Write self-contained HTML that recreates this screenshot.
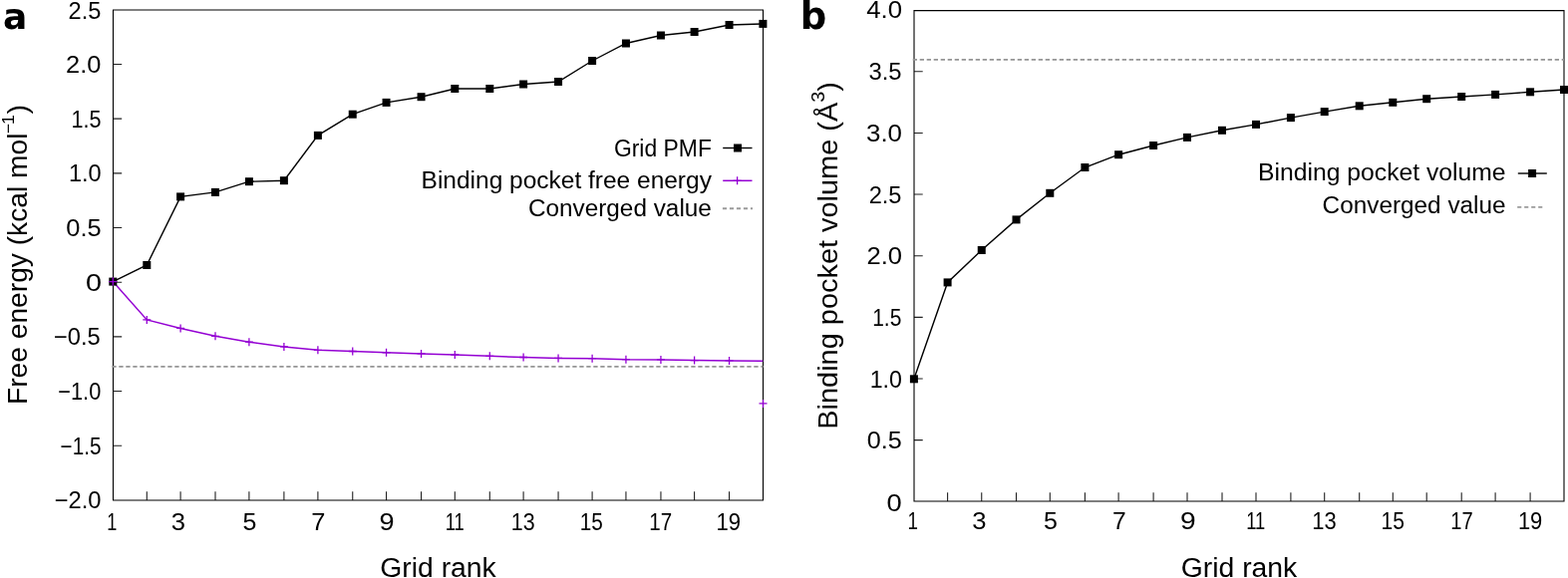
<!DOCTYPE html>
<html><head><meta charset="utf-8"><title>Grid rank convergence</title>
<style>
html,body{margin:0;padding:0;background:#fff;}
svg{display:block;}
text{font-family:"Liberation Sans", Arial, sans-serif;fill:#000;}
.t{font-size:23.8px;}
.ti{font-size:27.0px;}
.lg{font-size:23.5px;}
.lab{font-family:"DejaVu Sans","Liberation Sans",sans-serif;font-size:37px;font-weight:bold;}
</style></head>
<body>
<svg width="1573" height="580" viewBox="0 0 1573 580">
<rect width="1573" height="580" fill="#fff"/>
<path d="M113.5 64.50H122.2M113.5 119.17H122.2M113.5 173.84H122.2M113.5 228.51H122.2M113.5 283.18H122.2M113.5 337.85H122.2M113.5 392.52H122.2M113.5 447.19H122.2M147.30 493.3V502.0M181.10 493.3V502.0M216.00 493.3V502.0M249.90 493.3V502.0M284.90 493.3V502.0M318.90 493.3V502.0M353.75 493.3V502.0M387.55 493.3V502.0M422.55 493.3V502.0M456.30 493.3V502.0M491.30 493.3V502.0M525.10 493.3V502.0M560.05 493.3V502.0M594.10 493.3V502.0M627.95 493.3V502.0M662.95 493.3V502.0M696.60 493.3V502.0M731.55 493.3V502.0" stroke="#222" stroke-width="1.1" fill="none"/>
<path d="M113.5 10.0H765.5V502.0H113.5Z" fill="none" stroke="#000" stroke-width="1.1"/>
<line x1="112.3" y1="367.9" x2="765.5" y2="367.9" stroke="#959595" stroke-width="1.8" stroke-dasharray="4.3 2.7"/>
<polyline points="113.30,282.60 147.30,320.90 181.10,329.40 216.00,337.30 249.90,343.20 284.90,347.90 318.90,351.30 353.75,352.50 387.55,353.80 422.55,354.90 456.30,356.00 491.30,357.30 525.10,358.50 560.05,359.40 594.10,359.70 627.95,360.70 662.95,360.90 696.60,361.60 731.55,361.90 765.40,362.20" fill="none" stroke="#9400d3" stroke-width="1.5"/>
<path d="M109.30 282.60H117.30M113.30 278.60V286.60M143.30 320.90H151.30M147.30 316.90V324.90M177.10 329.40H185.10M181.10 325.40V333.40M212.00 337.30H220.00M216.00 333.30V341.30M245.90 343.20H253.90M249.90 339.20V347.20M280.90 347.90H288.90M284.90 343.90V351.90M314.90 351.30H322.90M318.90 347.30V355.30M349.75 352.50H357.75M353.75 348.50V356.50M383.55 353.80H391.55M387.55 349.80V357.80M418.55 354.90H426.55M422.55 350.90V358.90M452.30 356.00H460.30M456.30 352.00V360.00M487.30 357.30H495.30M491.30 353.30V361.30M521.10 358.50H529.10M525.10 354.50V362.50M556.05 359.40H564.05M560.05 355.40V363.40M590.10 359.70H598.10M594.10 355.70V363.70M623.95 360.70H631.95M627.95 356.70V364.70M658.95 360.90H666.95M662.95 356.90V364.90M692.60 361.60H700.60M696.60 357.60V365.60M727.55 361.90H735.55M731.55 357.90V365.90M761.50 404.90H769.50M765.50 400.90V408.90" stroke="#9400d3" stroke-width="1.3" fill="none"/>
<polyline points="113.30,282.60 147.30,266.00 181.10,197.40 216.00,192.90 249.90,182.20 284.90,181.20 318.90,135.90 353.75,114.70 387.55,102.90 422.55,97.20 456.30,89.00 491.30,89.00 525.10,84.50 560.05,82.00 594.10,61.00 627.95,43.50 662.95,35.50 696.60,32.00 731.55,25.00 765.40,23.90" fill="none" stroke="#000" stroke-width="1.4"/>
<g fill="#000"><rect x="109.30" y="278.60" width="8.0" height="8.0"/><rect x="143.30" y="262.00" width="8.0" height="8.0"/><rect x="177.10" y="193.40" width="8.0" height="8.0"/><rect x="212.00" y="188.90" width="8.0" height="8.0"/><rect x="245.90" y="178.20" width="8.0" height="8.0"/><rect x="280.90" y="177.20" width="8.0" height="8.0"/><rect x="314.90" y="131.90" width="8.0" height="8.0"/><rect x="349.75" y="110.70" width="8.0" height="8.0"/><rect x="383.55" y="98.90" width="8.0" height="8.0"/><rect x="418.55" y="93.20" width="8.0" height="8.0"/><rect x="452.30" y="85.00" width="8.0" height="8.0"/><rect x="487.30" y="85.00" width="8.0" height="8.0"/><rect x="521.10" y="80.50" width="8.0" height="8.0"/><rect x="556.05" y="78.00" width="8.0" height="8.0"/><rect x="590.10" y="57.00" width="8.0" height="8.0"/><rect x="623.95" y="39.50" width="8.0" height="8.0"/><rect x="658.95" y="31.50" width="8.0" height="8.0"/><rect x="692.60" y="28.00" width="8.0" height="8.0"/><rect x="727.55" y="21.00" width="8.0" height="8.0"/><rect x="761.40" y="19.90" width="8.0" height="8.0"/></g>
<path d="M109.30 282.60H117.30M113.30 278.60V286.60" stroke="#9400d3" stroke-width="1.3" fill="none"/>
<text x="713.9" y="156.6" text-anchor="end" class="lg" textLength="98" lengthAdjust="spacingAndGlyphs">Grid PMF</text>
<line x1="725.2" y1="148.5" x2="754.5" y2="148.5" stroke="#000" stroke-width="1.4"/>
<g fill="#000"><rect x="736.00" y="144.50" width="8.0" height="8.0"/></g>
<text x="713.9" y="189.1" text-anchor="end" class="lg" textLength="291.3" lengthAdjust="spacingAndGlyphs">Binding pocket free energy</text>
<line x1="725.2" y1="181.3" x2="754.5" y2="181.3" stroke="#9400d3" stroke-width="1.5"/>
<path d="M735.60 181.30H743.60M739.60 177.30V185.30" stroke="#9400d3" stroke-width="1.3" fill="none"/>
<text x="713.9" y="217.4" text-anchor="end" class="lg" textLength="184" lengthAdjust="spacingAndGlyphs">Converged value</text>
<line x1="724.9" y1="209.25" x2="755" y2="209.25" stroke="#9a9a9a" stroke-width="1.8" stroke-dasharray="4.1 2.9"/>
<text x="439.5" y="579.2" text-anchor="middle" class="ti" textLength="116.5" lengthAdjust="spacingAndGlyphs">Grid rank</text>
<text transform="translate(26.6 255.6) rotate(-90)" text-anchor="middle" class="ti" textLength="300.8" lengthAdjust="spacingAndGlyphs">Free energy (kcal mol<tspan dy="-12.6" dx="-0.6" font-size="17">−</tspan><tspan dx="-1.2" font-size="17">1</tspan><tspan dy="12.6" dx="0.6">)</tspan></text>
<text x="2.9" y="29.2" class="lab" style="font-size:36px">a</text>
<path d="M917.0 441.66H925.7M917.0 380.01H925.7M917.0 318.37H925.7M917.0 256.72H925.7M917.0 195.07H925.7M917.0 133.43H925.7M917.0 71.78H925.7M950.60 494.3V503.0M984.75 494.3V503.0M1019.50 494.3V503.0M1053.30 494.3V503.0M1088.40 494.3V503.0M1122.10 494.3V503.0M1157.10 494.3V503.0M1191.00 494.3V503.0M1226.00 494.3V503.0M1260.00 494.3V503.0M1294.90 494.3V503.0M1328.70 494.3V503.0M1363.70 494.3V503.0M1397.30 494.3V503.0M1431.20 494.3V503.0M1466.20 494.3V503.0M1500.10 494.3V503.0M1535.10 494.3V503.0" stroke="#222" stroke-width="1.1" fill="none"/>
<path d="M917.0 10.6H1569.0V503.0H917.0Z" fill="none" stroke="#000" stroke-width="1.1"/>
<line x1="915.7" y1="59.8" x2="1569" y2="59.8" stroke="#959595" stroke-width="1.8" stroke-dasharray="4.3 2.7"/>
<polyline points="916.90,380.30 950.60,283.40 984.75,251.00 1019.50,220.40 1053.30,193.80 1088.40,168.00 1122.10,155.20 1157.10,146.00 1191.00,137.90 1226.00,130.80 1260.00,124.90 1294.90,118.10 1328.70,112.10 1363.70,106.30 1397.30,102.80 1431.20,99.20 1466.20,97.00 1500.10,94.90 1535.10,92.30 1569.00,90.00" fill="none" stroke="#000" stroke-width="1.4"/>
<g fill="#000"><rect x="912.90" y="376.30" width="8.0" height="8.0"/><rect x="946.60" y="279.40" width="8.0" height="8.0"/><rect x="980.75" y="247.00" width="8.0" height="8.0"/><rect x="1015.50" y="216.40" width="8.0" height="8.0"/><rect x="1049.30" y="189.80" width="8.0" height="8.0"/><rect x="1084.40" y="164.00" width="8.0" height="8.0"/><rect x="1118.10" y="151.20" width="8.0" height="8.0"/><rect x="1153.10" y="142.00" width="8.0" height="8.0"/><rect x="1187.00" y="133.90" width="8.0" height="8.0"/><rect x="1222.00" y="126.80" width="8.0" height="8.0"/><rect x="1256.00" y="120.90" width="8.0" height="8.0"/><rect x="1290.90" y="114.10" width="8.0" height="8.0"/><rect x="1324.70" y="108.10" width="8.0" height="8.0"/><rect x="1359.70" y="102.30" width="8.0" height="8.0"/><rect x="1393.30" y="98.80" width="8.0" height="8.0"/><rect x="1427.20" y="95.20" width="8.0" height="8.0"/><rect x="1462.20" y="93.00" width="8.0" height="8.0"/><rect x="1496.10" y="90.90" width="8.0" height="8.0"/><rect x="1531.10" y="88.30" width="8.0" height="8.0"/><rect x="1565.00" y="86.00" width="8.0" height="8.0"/></g>
<text x="1510.6" y="181" text-anchor="end" class="lg" textLength="248.5" lengthAdjust="spacingAndGlyphs">Binding pocket volume</text>
<line x1="1522.8" y1="174" x2="1551.8" y2="174" stroke="#000" stroke-width="1.4"/>
<g fill="#000"><rect x="1533.10" y="170.00" width="8.0" height="8.0"/></g>
<text x="1510.6" y="214.2" text-anchor="end" class="lg" textLength="184" lengthAdjust="spacingAndGlyphs">Converged value</text>
<line x1="1522.2" y1="207.8" x2="1547.6" y2="207.8" stroke="#9a9a9a" stroke-width="1.8" stroke-dasharray="4.1 2.9"/>
<text x="1243" y="578.9" text-anchor="middle" class="ti" textLength="116.5" lengthAdjust="spacingAndGlyphs">Grid rank</text>
<text transform="translate(839.7 256.4) rotate(-90)" text-anchor="middle" class="ti" textLength="348.6" lengthAdjust="spacingAndGlyphs">Binding pocket volume (Å<tspan dy="-12.5" font-size="18.5">3</tspan><tspan dy="12.5">)</tspan></text>
<text x="802.7" y="29.2" class="lab">b</text>
<text class="t" transform="translate(68.56 19.13) scale(0.9919 1)">2.5</text>
<text class="t" transform="translate(66.07 73.00) scale(1.0677 1)">2.0</text>
<text class="t" transform="translate(71.41 127.67) scale(0.9091 1)">1.5</text>
<text class="t" transform="translate(68.97 182.34) scale(0.9902 1)">1.0</text>
<text class="t" transform="translate(66.33 237.01) scale(1.0677 1)">0.5</text>
<text class="t" transform="translate(86.09 291.68) scale(1.2089 1)">0</text>
<text class="t" transform="translate(53.96 346.35) scale(0.9944 1)">−0.5</text>
<text class="t" transform="translate(58.25 401.02) scale(0.9162 1)">−1.0</text>
<text class="t" transform="translate(60.61 455.69) scale(0.8693 1)">−1.5</text>
<text class="t" transform="translate(54.65 510.36) scale(0.9989 1)">−2.0</text>
<text class="t" transform="translate(869.16 18.44) scale(1.0835 1)">4.0</text>
<text class="t" transform="translate(871.40 80.38) scale(1.0000 1)">3.5</text>
<text class="t" transform="translate(869.01 142.03) scale(1.0880 1)">3.0</text>
<text class="t" transform="translate(871.66 203.67) scale(0.9919 1)">2.5</text>
<text class="t" transform="translate(869.46 265.32) scale(1.0742 1)">2.0</text>
<text class="t" transform="translate(875.16 326.97) scale(0.8826 1)">1.5</text>
<text class="t" transform="translate(872.70 388.61) scale(0.9738 1)">1.0</text>
<text class="t" transform="translate(869.84 450.26) scale(1.0565 1)">0.5</text>
<text class="t" transform="translate(889.60 512.70) scale(1.1467 1)">0</text>
<text class="t" transform="translate(107.37 531.60) scale(0.7610 1)">1</text>
<text class="t" transform="translate(171.82 531.60) scale(1.0756 1)">3</text>
<text class="t" transform="translate(243.55 531.60) scale(1.0489 1)">5</text>
<text class="t" transform="translate(312.26 531.60) scale(1.0698 1)">7</text>
<text class="t" transform="translate(380.58 531.60) scale(1.1349 1)">9</text>
<text class="t" transform="translate(446.65 531.60) scale(0.7724 1)">11</text>
<text class="t" transform="translate(512.82 531.60) scale(0.9011 1)">13</text>
<text class="t" transform="translate(581.82 531.60) scale(0.8716 1)">15</text>
<text class="t" transform="translate(651.29 531.60) scale(0.8638 1)">17</text>
<text class="t" transform="translate(718.58 531.60) scale(0.9277 1)">19</text>
<text class="t" transform="translate(910.52 531.30) scale(0.7902 1)">1</text>
<text class="t" transform="translate(975.32 531.30) scale(1.0756 1)">3</text>
<text class="t" transform="translate(1047.05 531.30) scale(1.0489 1)">5</text>
<text class="t" transform="translate(1116.11 531.30) scale(1.0326 1)">7</text>
<text class="t" transform="translate(1183.92 531.30) scale(1.1814 1)">9</text>
<text class="t" transform="translate(1250.15 531.30) scale(0.7724 1)">11</text>
<text class="t" transform="translate(1316.29 531.30) scale(0.9221 1)">13</text>
<text class="t" transform="translate(1385.45 531.30) scale(0.8842 1)">15</text>
<text class="t" transform="translate(1455.32 531.30) scale(0.8468 1)">17</text>
<text class="t" transform="translate(1522.88 531.30) scale(0.9234 1)">19</text>
</svg>
</body></html>
